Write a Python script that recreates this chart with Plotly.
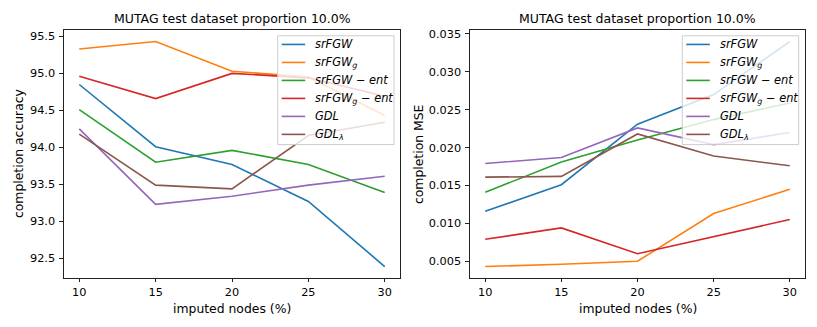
import plotly.graph_objects as go

# ---------------- data ----------------
imputed = [10, 15, 20, 25, 30]
x_ticks = [10, 15, 20, 25, 30]

series_names = [
    "<i>srFGW</i>",
    "<i>srFGW</i><sub><i>g</i></sub>",
    "<i>srFGW</i> − <i>ent</i>",
    "<i>srFGW</i><sub><i>g</i></sub> − <i>ent</i>",
    "<i>GDL</i>",
    "<i>GDL</i><sub><i>λ</i></sub>",
]
colors = ["#1f77b4", "#ff7f0e", "#2ca02c", "#d62728", "#9467bd", "#8c564b"]

acc_srFGW = [94.85, 94.01, 93.77, 93.27, 92.39]
acc_srFGW_g = [95.33, 95.43, 95.03, 94.95, 94.43]
acc_srFGW_ent = [94.51, 93.80, 93.96, 93.77, 93.39]
acc_srFGW_g_ent = [94.96, 94.66, 95.00, 94.94, 94.69]
acc_GDL = [94.25, 93.23, 93.34, 93.49, 93.61]
acc_GDL_lambda = [94.18, 93.49, 93.44, 94.16, 94.34]

mse_srFGW = [0.0116, 0.0151, 0.0231, 0.0270, 0.0340]
mse_srFGW_g = [0.0043, 0.0046, 0.0050, 0.0113, 0.0145]
mse_srFGW_ent = [0.0141, 0.0181, 0.0210, 0.0237, 0.0259]
mse_srFGW_g_ent = [0.0079, 0.0094, 0.0060, 0.0083, 0.0105]
mse_GDL = [0.0179, 0.0187, 0.0226, 0.0204, 0.0220]
mse_GDL_lambda = [0.0161, 0.0162, 0.0218, 0.0189, 0.0176]

acc_ticks = [92.5, 93.0, 93.5, 94.0, 94.5, 95.0, 95.5]
mse_ticks = [0.005, 0.010, 0.015, 0.020, 0.025, 0.030, 0.035]

title_text = "MUTAG test dataset proportion 10.0%"
xlabel = "imputed nodes (%)"
ylabel_left = "completion accuracy"
ylabel_right = "completion MSE"

acc_series = [acc_srFGW, acc_srFGW_g, acc_srFGW_ent, acc_srFGW_g_ent, acc_GDL, acc_GDL_lambda]
mse_series = [mse_srFGW, mse_srFGW_g, mse_srFGW_ent, mse_srFGW_g_ent, mse_GDL, mse_GDL_lambda]

# ---------------- figure ----------------
W, H = 817, 327
FONT = "DejaVu Sans"
TICK_SIZE = 11.3
LABEL_SIZE = 12.4
TITLE_SIZE = 12.5
LEGEND_SIZE = 11.4
LW = 1.6

fig = go.Figure()

for name, col, ys in zip(series_names, colors, acc_series):
    fig.add_trace(go.Scatter(x=imputed, y=ys, mode="lines", name=name,
                             line=dict(color=col, width=LW),
                             xaxis="x", yaxis="y", showlegend=False))
for name, col, ys in zip(series_names, colors, mse_series):
    fig.add_trace(go.Scatter(x=imputed, y=ys, mode="lines", name=name,
                             line=dict(color=col, width=LW),
                             xaxis="x2", yaxis="y2", showlegend=False))


def pad_range(vals, frac=0.05):
    lo, hi = min(vals), max(vals)
    d = (hi - lo) * frac
    return [lo - d, hi + d]


acc_all = [v for s in acc_series for v in s]
mse_all = [v for s in mse_series for v in s]

L1, R1 = 64, 400
L2, R2 = 470, 805
TOP, BOT = 28.5, 277.5

ax_common = dict(showline=True, linecolor="#222", linewidth=1, mirror=True,
                 ticks="outside", ticklen=3.6, tickwidth=0.9, tickcolor="#222",
                 showgrid=False, zeroline=False,
                 tickfont=dict(family=FONT, size=TICK_SIZE, color="black"))

ydom = [1 - BOT / H, 1 - TOP / H]
fig.update_layout(
    width=W, height=H,
    margin=dict(l=0, r=0, t=0, b=0),
    paper_bgcolor="white", plot_bgcolor="white",
    font=dict(family=FONT, size=TICK_SIZE, color="black"),
    xaxis=dict(domain=[L1 / W, R1 / W], range=pad_range(imputed), tickvals=x_ticks,
               anchor="y", **ax_common),
    yaxis=dict(domain=ydom, range=pad_range(acc_all), tickvals=acc_ticks,
               tickformat=".1f", anchor="x", ticklabelstandoff=2, **ax_common),
    xaxis2=dict(domain=[L2 / W, R2 / W], range=pad_range(imputed), tickvals=x_ticks,
                anchor="y2", **ax_common),
    yaxis2=dict(domain=ydom, range=pad_range(mse_all), tickvals=mse_ticks,
                tickformat=".3f", anchor="x2", ticklabelstandoff=2, **ax_common),
    showlegend=False,
    hovermode=False,
)


def px(x):
    return x / W


def py(y):
    return 1 - y / H


ann = []
shapes = []
for (l, r, ylab, ylab_x) in [(L1, R1, ylabel_left, 18), (L2, R2, ylabel_right, 418)]:
    cx = (l + r) / 2 / W
    ann.append(dict(text=title_text, x=cx, y=py(17), xref="paper", yref="paper",
                    showarrow=False, xanchor="center", yanchor="middle",
                    font=dict(family=FONT, size=TITLE_SIZE, color="black")))
    ann.append(dict(text=xlabel, x=cx, y=py(308), xref="paper", yref="paper",
                    showarrow=False, xanchor="center", yanchor="middle",
                    font=dict(family=FONT, size=LABEL_SIZE, color="black")))
    ann.append(dict(text=ylab, x=px(ylab_x), y=py((TOP + BOT) / 2),
                    xref="paper", yref="paper", textangle=-90,
                    showarrow=False, xanchor="center", yanchor="middle",
                    font=dict(family=FONT, size=LABEL_SIZE, color="black")))

# legends (one per panel), matplotlib-style boxes in the upper right
ROW0, ROWSTEP = 42.7, 18.1
for fx0, fx1 in [(277.7, 394.0), (682.3, 798.7)]:
    shapes.append(dict(type="rect", xref="paper", yref="paper", layer="above",
                       x0=px(fx0), x1=px(fx1), y0=py(143.5), y1=py(34),
                       fillcolor="rgba(255,255,255,0.8)",
                       line=dict(color="#cccccc", width=1)))
    for i, (name, col) in enumerate(zip(series_names, colors)):
        yy = ROW0 + i * ROWSTEP
        shapes.append(dict(type="line", xref="paper", yref="paper", layer="above",
                           x0=px(fx0 + 4), x1=px(fx0 + 27.5), y0=py(yy), y1=py(yy),
                           line=dict(color=col, width=LW)))
        ann.append(dict(text=name, x=px(fx0 + 35.5), y=py(yy), xref="paper", yref="paper",
                        showarrow=False, xanchor="left", yanchor="middle",
                        font=dict(family=FONT, size=LEGEND_SIZE, color="black")))

fig.update_layout(annotations=ann, shapes=shapes)

fig.write_html("out.html",
               config={"displayModeBar": False},
               post_script="document.body.style.margin='0';"
                           "document.documentElement.style.overflow='hidden';")
